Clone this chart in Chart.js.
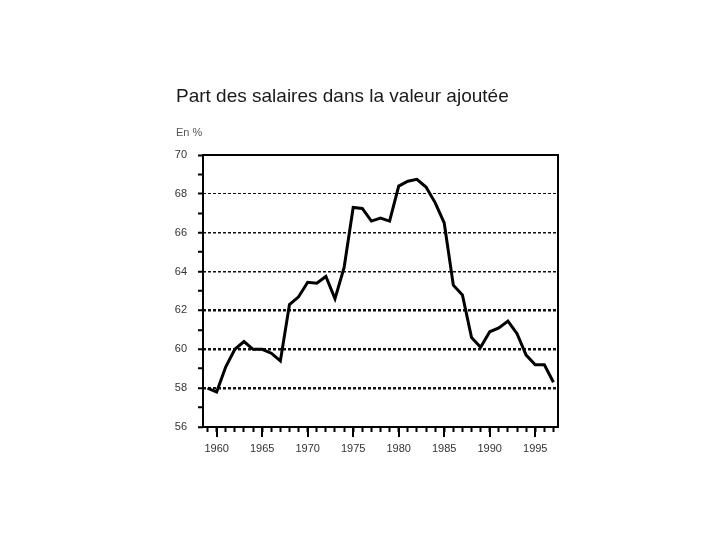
<!DOCTYPE html>
<html>
<head>
<meta charset="utf-8">
<script src="https://cdn.jsdelivr.net/npm/chart.js@4/dist/chart.umd.min.js"></script>
<style>
  body { margin: 0; background: #fff; }
  #wrap { position: relative; width: 720px; height: 540px; }
  #title { position: absolute; left: 176px; top: 85px; font: 19px 'Liberation Sans', Arial, sans-serif; color: #1a1a1a; }
  #unit { position: absolute; left: 176px; top: 126px; font: 11px 'Liberation Sans', Arial, sans-serif; color: #555; }
  canvas { position: absolute; left: 0; top: 0; }
</style>
</head>
<body>
<div id="wrap">
  <canvas id="chart" width="720" height="540"></canvas>
  <div id="title">Part des salaires dans la valeur ajoutée</div>
  <div id="unit">En %</div>
</div>
<script>
  // data
const years = [1959, 1960, 1961, 1962, 1963, 1964, 1965, 1966, 1967, 1968,
  1969, 1970, 1971, 1972, 1973, 1974, 1975, 1976, 1977, 1978,
  1979, 1980, 1981, 1982, 1983, 1984, 1985, 1986, 1987, 1988,
  1989, 1990, 1991, 1992, 1993, 1994, 1995, 1996, 1997];
const shares = [58.0, 57.8, 59.1, 60.0, 60.4, 60.0, 60.0, 59.8, 59.4, 62.3,
  62.7, 63.45, 63.4, 63.75, 62.6, 64.2, 67.3, 67.25, 66.6, 66.75,
  66.6, 68.4, 68.65, 68.75, 68.35, 67.55, 66.5, 63.3, 62.8, 60.6,
  60.1, 60.9, 61.1, 61.45, 60.8, 59.7, 59.2, 59.2, 58.3];
const yearLabels = [1960, 1965, 1970, 1975, 1980, 1985, 1990, 1995];
const pctLabels = [56, 58, 60, 62, 64, 66, 68, 70];

const font = { family: "'Liberation Sans', Arial, sans-serif", size: 11 };
const near = (v, list) => list.some(t => Math.abs(v - t) < 1e-6);

  // frame + long ticks for the labelled years
const frame = {
  id: 'frame',
  afterDraw(chart) {
    const { ctx, chartArea: a, scales } = chart;
    ctx.save();
    ctx.strokeStyle = '#000';
    ctx.lineWidth = 2;
    ctx.strokeRect(a.left, a.top, a.right - a.left, a.bottom - a.top);
    ctx.beginPath();
    yearLabels.forEach(y => {
      const px = Math.round(scales.x.getPixelForValue(y));
      ctx.moveTo(px, a.bottom);
      ctx.lineTo(px, a.bottom + 10);
    });
    ctx.stroke();
    ctx.restore();
  }
};

new Chart(document.getElementById('chart'), {
  type: 'line',
  data: {
    datasets: [{
      data: years.map((y, i) => ({ x: y, y: shares[i] })),
      borderColor: '#000',
      borderWidth: 3,
      pointRadius: 0,
      tension: 0,
    }]
  },
  options: {
    responsive: false,
    animation: false,
    layout: { padding: { left: 170, top: 155, right: 162, bottom: 83 } },
    plugins: { legend: { display: false }, tooltip: { enabled: false } },
    scales: {
      x: {
        type: 'linear',
        min: 1958.5,
        max: 1997.5,
        afterBuildTicks: s => { s.ticks = years.map(v => ({ value: v })); },
        afterFit: s => { s.height = 30; },
        border: { display: false },
        grid: { drawOnChartArea: false, tickLength: 5, tickColor: '#000', tickWidth: 2 },
        ticks: {
          autoSkip: false,
          maxRotation: 0,
          minRotation: 0,
          padding: 10,
          color: '#333',
          font: font,
          callback: v => near(v, yearLabels) ? String(Math.round(v)) : ''
        }
      },
      y: {
        min: 56,
        max: 70,
        afterFit: s => { s.width = 33; },
        border: { display: false, dash: [3, 2] },
        grid: {
          tickLength: 5,
          tickWidth: 2,
          tickColor: '#000',
          lineWidth: c => {
            const v = c.tick ? c.tick.value : 0;
            return v <= 62 ? 2.5 : v <= 66 ? 1.5 : 1;
          },
          color: c => (c.tick && c.tick.value % 2 === 0 && c.tick.value > 56 && c.tick.value < 70) ? '#111' : 'rgba(0,0,0,0)'
        },
        ticks: {
          stepSize: 1,
          autoSkip: false,
          padding: 11,
          color: '#333',
          font: font,
          callback: v => near(v, pctLabels) ? String(Math.round(v)) : ''
        }
      }
    }
  },
  plugins: [frame]
});
</script>
</body>
</html>
